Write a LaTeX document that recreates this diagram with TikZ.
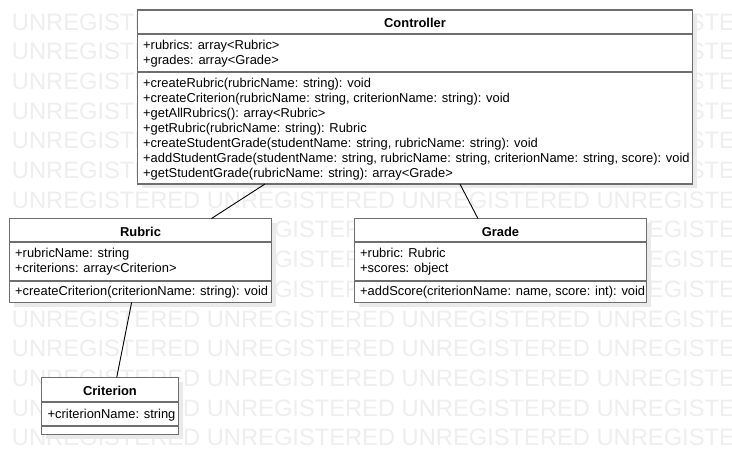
\documentclass[tikz,border=0pt]{standalone}
\usepackage{fontspec}
\setmainfont{Liberation Sans}
\usetikzlibrary{calc,shadows}
\definecolor{boxline}{RGB}{110,110,110}
\definecolor{wm}{RGB}{238,238,238}
\definecolor{shadowc}{RGB}{234,234,234}
\begin{document}
\begin{tikzpicture}[x=1pt,y=-1pt,
  wmtext/.style={anchor=base west,inner sep=0pt,outer sep=0pt,text=wm,font=\fontsize{23.7}{28}\selectfont},
  classbox/.style={draw=boxline,line width=1.5pt,fill=white,inner sep=0pt,outer sep=0pt,rectangle,anchor=north west,
    drop shadow={shadow xshift=4pt,shadow yshift=-4pt,fill=shadowc,opacity=1}},
  sepline/.style={draw=boxline,line width=1.5pt},
  classtitle/.style={anchor=base,inner sep=0pt,font=\fontsize{12.9}{15}\selectfont\bfseries},
  member/.style={anchor=base west,inner sep=0pt,font=\fontsize{12.9}{15}\selectfont},
  assoc/.style={draw=black,line width=0.9pt},
]
\useasboundingbox (0,0) rectangle (732,475);
\fill[white] (0,0) rectangle (732,475);
\begin{scope}
\clip (0,0) rectangle (732,475);
\foreach \k in {0,...,14}
  \node[wmtext] (wm\k) at (12,{30+29.7*\k}) {UNREGISTERED UNREGISTERED UNREGISTERED UNREGISTERED};
\end{scope}

% Controller
\node[classbox,minimum width=555pt,minimum height=174pt] (ctrl) at (137.5,10) {};
\draw[sepline] ($(ctrl.north west)+(0,24)$) -- ($(ctrl.north east)+(0,24)$);
\draw[sepline] ($(ctrl.north west)+(0,62)$) -- ($(ctrl.north east)+(0,62)$);
\node[classtitle] (ctrlt) at (415,27) {Controller};
\node[member] (ca1) at (143,49.5) {+rubrics: array<Rubric>};
\node[member] (ca2) at (143,64.5) {+grades: array<Grade>};
\node[member] (cm1) at (143,87.5) {+createRubric(rubricName: string): void};
\node[member] (cm2) at (143,102.5) {+createCriterion(rubricName: string, criterionName: string): void};
\node[member] (cm3) at (143,117.5) {+getAllRubrics(): array<Rubric>};
\node[member] (cm4) at (143,132.5) {+getRubric(rubricName: string): Rubric};
\node[member] (cm5) at (143,147.5) {+createStudentGrade(studentName: string, rubricName: string): void};
\node[member] (cm6) at (143,162.5) {+addStudentGrade(studentName: string, rubricName: string, criterionName: string, score): void};
\node[member] (cm7) at (143,177.5) {+getStudentGrade(rubricName: string): array<Grade>};

% Rubric
\node[classbox,minimum width=262pt,minimum height=84pt] (rubric) at (9.5,218.5) {};
\draw[sepline] ($(rubric.north west)+(0,23.5)$) -- ($(rubric.north east)+(0,23.5)$);
\draw[sepline] ($(rubric.north west)+(0,62.5)$) -- ($(rubric.north east)+(0,62.5)$);
\node[classtitle] (rubrict) at (140.5,236) {Rubric};
\node[member] (ra1) at (15,257.8) {+rubricName: string};
\node[member] (ra2) at (15,272.8) {+criterions: array<Criterion>};
\node[member] (rm1) at (15,295.3) {+createCriterion(criterionName: string): void};

% Grade
\node[classbox,minimum width=292pt,minimum height=84pt] (grade) at (354.5,218.5) {};
\draw[sepline] ($(grade.north west)+(0,23.5)$) -- ($(grade.north east)+(0,23.5)$);
\draw[sepline] ($(grade.north west)+(0,62.5)$) -- ($(grade.north east)+(0,62.5)$);
\node[classtitle] (gradet) at (500.5,236) {Grade};
\node[member] (ga1) at (360,257.8) {+rubric: Rubric};
\node[member] (ga2) at (360,272.8) {+scores: object};
\node[member] (gm1) at (360,295.3) {+addScore(criterionName: name, score: int): void};

% Criterion
\node[classbox,minimum width=137pt,minimum height=57pt] (crit) at (41.5,377.5) {};
\draw[sepline] ($(crit.north west)+(0,24.5)$) -- ($(crit.north east)+(0,24.5)$);
\draw[sepline] ($(crit.north west)+(0,48.5)$) -- ($(crit.north east)+(0,48.5)$);
\node[classtitle] (critt) at (110,395) {Criterion};
\node[member] (cra1) at (47.5,418.5) {+criterionName: string};

% associations
\draw[assoc] ($(ctrl.south west)!0.2297!(ctrl.south east)$) -- ($(rubric.north west)!0.771!(rubric.north east)$);
\draw[assoc] ($(ctrl.south west)!0.581!(ctrl.south east)$) -- ($(grade.north west)!0.4227!(grade.north east)$);
\draw[assoc] ($(rubric.south west)!0.466!(rubric.south east)$) -- ($(crit.north west)!0.549!(crit.north east)$);
\end{tikzpicture}
\end{document}
